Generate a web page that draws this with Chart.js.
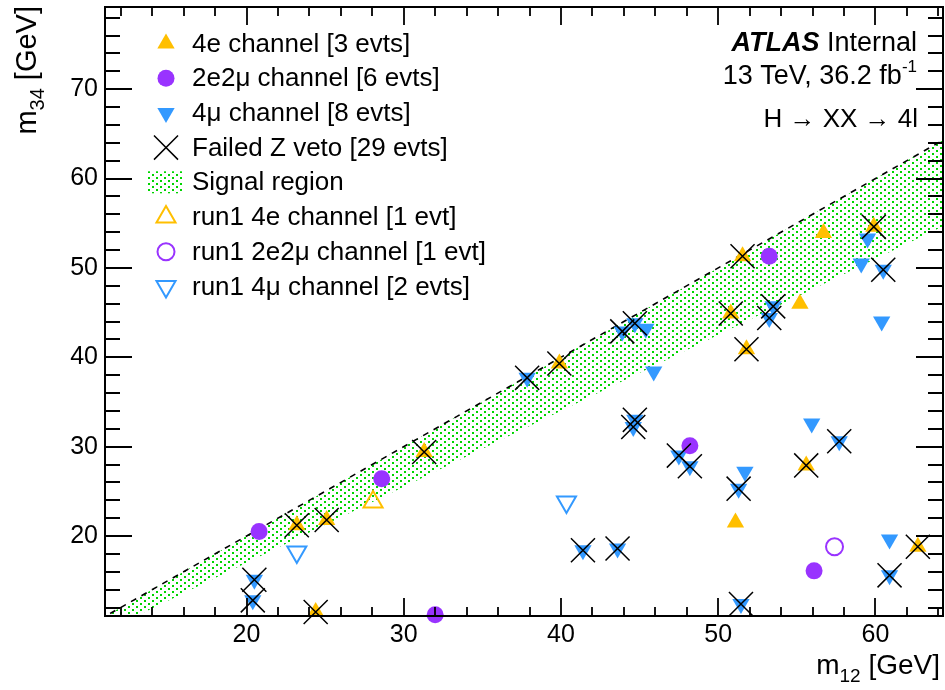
<!DOCTYPE html>
<html>
<head>
<meta charset="utf-8">
<script src="https://cdn.jsdelivr.net/npm/chart.js@4.4.1/dist/chart.umd.min.js"></script>
<style>
  body { margin: 0; background: #fff; }
  #wrap { width: 945px; height: 690px; }
</style>
</head>
<body>
<div id="wrap"><canvas id="plot" width="945" height="690"></canvas></div>
<script>
// axis ticks
const xMajorTicks = [20, 30, 40, 50, 60];
const yMajorTicks = [20, 30, 40, 50, 60, 70];

// 4e channel, passed
const e4M12 = [51.1, 55.2, 56.7];
const e4M34 = [21.5, 46.0, 53.9];
// 2e2mu channel, passed
const e2m2M12 = [20.8, 28.6, 32.0, 48.2, 53.25, 56.1];
const e2m2M34 = [20.5, 26.4, 11.2, 30.1, 51.3, 16.1];
// 4mu channel, passed
const m4M12 = [45.4, 45.9, 51.7, 55.95, 59.1, 59.5, 60.4, 60.9];
const m4M34 = [43.2, 38.4, 27.2, 32.6, 50.5, 53.3, 44.0, 19.6];

// failed Z veto (4e and 4mu underneath the crosses)
const e4FailM12 = [23.2, 24.4, 25.1, 31.3, 39.9, 50.8, 51.55, 51.8, 55.6, 59.9, 62.7];
const e4FailM34 = [21.2, 11.5, 21.8, 29.4, 39.3, 44.9, 51.3, 40.9, 27.9, 54.6, 18.8];
const m4FailM12 = [20.4, 20.5, 37.85, 41.4, 43.6, 43.9, 44.6, 44.7, 44.7, 47.5, 48.2, 51.3, 51.45, 53.25, 53.5, 57.7, 60.5, 60.9];
const m4FailM34 = [12.8, 15.1, 37.7, 18.4, 18.6, 42.9, 32.2, 33.0, 43.8, 29.0, 27.8, 25.3, 12.4, 44.4, 45.7, 30.6, 49.8, 15.6];

// run1 events
const run1e4M12 = [28.05];
const run1e4M34 = [23.8];
const run1e2m2M12 = [57.4];
const run1e2m2M34 = [18.8];
const run1m4M12 = [23.2, 40.35];
const run1m4M34 = [18.2, 23.8];

// signal region edges (m34 = m12 and m34 = 0.85 m12)
const bandM12 = [10, 70];
const bandUpper = [10, 70];
const bandLower = [8.5, 59.5];

const FONT = "'Liberation Sans', Arial, Helvetica, sans-serif";
const ORANGE = "#ffbf00";
const PURPLE = "#9933ff";
const BLUE = "#3399ff";

function pts(xs, ys) {
    return xs.map((x, i) => ({ x: x, y: ys[i] }));
}

// green dotted fill like ROOT style 3003
function dotPattern() {
    const c = document.createElement("canvas");
    c.width = 8;
    c.height = 6;
    const g = c.getContext("2d");
    g.fillStyle = "#00d400";
    g.fillRect(0, 0, 2, 2);
    g.fillRect(4, 3, 2, 2);
    return g.createPattern(c, "repeat");
}
const pattern = dotPattern();

const legendRows = [
    { text: "4e channel [3 evts]", style: "triangle", rot: 0, r: 10, fill: ORANGE, stroke: ORANGE, bw: 0 },
    { text: "2e2\u03bc channel [6 evts]", style: "circle", rot: 0, r: 8.5, fill: PURPLE, stroke: PURPLE, bw: 0 },
    { text: "4\u03bc channel [8 evts]", style: "triangle", rot: 180, r: 10, fill: BLUE, stroke: BLUE, bw: 0 },
    { text: "Failed Z veto [29 evts]", style: "crossRot", rot: 0, r: 17, fill: "rgba(0,0,0,0)", stroke: "#000", bw: 1.5 },
    { text: "Signal region", style: "band" },
    { text: "run1 4e channel [1 evt]", style: "triangle", rot: 0, r: 11, fill: "rgba(0,0,0,0)", stroke: ORANGE, bw: 2 },
    { text: "run1 2e2\u03bc channel [1 evt]", style: "circle", rot: 0, r: 8.5, fill: "rgba(0,0,0,0)", stroke: PURPLE, bw: 2 },
    { text: "run1 4\u03bc channel [2 evts]", style: "triangle", rot: 180, r: 11, fill: "rgba(0,0,0,0)", stroke: BLUE, bw: 2 }
];

// frame, inward ticks, legend and labels, drawn the ROOT way
const rootDecor = {
    id: "rootDecor",
    afterDraw(chart) {
        const ctx = chart.ctx;
        const a = chart.chartArea;
        const xs = chart.scales.x;
        const ys = chart.scales.y;
        ctx.save();

        // ticks
        ctx.strokeStyle = "#000";
        ctx.lineWidth = 1.8;
        ctx.beginPath();
        for (let v = 12; v <= xs.max; v += 2) {
            const px = Math.round(xs.getPixelForValue(v));
            const len = v % 10 === 0 ? 18 : 9;
            ctx.moveTo(px, a.bottom);
            ctx.lineTo(px, a.bottom - len);
            ctx.moveTo(px, a.top);
            ctx.lineTo(px, a.top + len);
        }
        for (let v = 12; v <= ys.max; v += 2) {
            const py = Math.round(ys.getPixelForValue(v));
            const len = v % 10 === 0 ? 27 : 15;
            ctx.moveTo(a.left, py);
            ctx.lineTo(a.left + len, py);
            ctx.moveTo(a.right, py);
            ctx.lineTo(a.right - len, py);
        }
        ctx.stroke();
        ctx.lineWidth = 2;
        ctx.strokeRect(a.left, a.top, a.right - a.left, a.bottom - a.top);

        // legend
        const lx = 166;
        legendRows.forEach((row, i) => {
            const ly = 43.5 + i * 34.7;
            if (row.style === "band") {
                ctx.fillStyle = pattern;
                ctx.fillRect(lx - 18, ly - 11, 36, 22);
            } else {
                ctx.fillStyle = row.fill;
                ctx.strokeStyle = row.stroke;
                ctx.lineWidth = row.bw;
                Chart.helpers.drawPoint(ctx, {
                    pointStyle: row.style, radius: row.r, rotation: row.rot, borderWidth: row.bw
                }, lx, ly);
            }
            ctx.fillStyle = "#000";
            ctx.font = "26px " + FONT;
            ctx.textAlign = "left";
            ctx.textBaseline = "middle";
            ctx.fillText(row.text, 192, ly + 1);
        });

        // ATLAS label block
        ctx.textBaseline = "alphabetic";
        ctx.textAlign = "right";
        ctx.font = "27px " + FONT;
        const right = 917;
        ctx.fillText("Internal", right, 51);
        const wInt = ctx.measureText(" Internal").width;
        ctx.font = "italic bold 27px " + FONT;
        ctx.fillText("ATLAS", right - wInt, 51);

        ctx.font = "17px " + FONT;
        ctx.fillText("-1", right, 72);
        const wSup = ctx.measureText("-1").width;
        ctx.font = "27px " + FONT;
        ctx.fillText("13 TeV, 36.2 fb", right - wSup, 84);
        ctx.font = "26px " + FONT;
        ctx.fillText("H \u2192 XX \u2192 4l", right + 1, 127);

        // x axis title
        ctx.font = "28px " + FONT;
        ctx.fillText(" [GeV]", 940, 674);
        let w = ctx.measureText(" [GeV]").width;
        ctx.font = "19px " + FONT;
        ctx.fillText("12", 940 - w, 682);
        w += ctx.measureText("12").width;
        ctx.font = "28px " + FONT;
        ctx.fillText("m", 940 - w, 674);

        // y axis title
        ctx.translate(36, 6);
        ctx.rotate(-Math.PI / 2);
        ctx.textAlign = "right";
        ctx.font = "29px " + FONT;
        ctx.fillText(" [GeV]", 0, 0);
        w = ctx.measureText(" [GeV]").width;
        ctx.font = "20px " + FONT;
        ctx.fillText("34", -w, 8);
        w += ctx.measureText("34").width;
        ctx.font = "29px " + FONT;
        ctx.fillText("m", -w, 0);

        ctx.restore();
    }
};

function markerSet(xs, ys, style, rot, r, fill, stroke, bw, order) {
    return {
        data: pts(xs, ys),
        pointStyle: style,
        rotation: rot,
        pointRadius: r,
        pointHoverRadius: r,
        backgroundColor: fill,
        borderColor: stroke,
        borderWidth: bw,
        order: order,
        clip: false
    };
}

const datasets = [
    markerSet(e4FailM12.concat(m4FailM12), e4FailM34.concat(m4FailM34), "crossRot", 0, 17, "rgba(0,0,0,0)", "#000", 1.5, 0),
    markerSet(run1e4M12, run1e4M34, "triangle", 0, 11, "rgba(0,0,0,0)", ORANGE, 2, 1),
    markerSet(run1e2m2M12, run1e2m2M34, "circle", 0, 8.5, "rgba(0,0,0,0)", PURPLE, 2, 1),
    markerSet(run1m4M12, run1m4M34, "triangle", 180, 11, "rgba(0,0,0,0)", BLUE, 2, 1),
    markerSet(e4M12, e4M34, "triangle", 0, 10, ORANGE, ORANGE, 0, 2),
    markerSet(e2m2M12, e2m2M34, "circle", 0, 8.5, PURPLE, PURPLE, 0, 2),
    markerSet(m4M12, m4M34, "triangle", 180, 10, BLUE, BLUE, 0, 2),
    markerSet(e4FailM12, e4FailM34, "triangle", 0, 10, ORANGE, ORANGE, 0, 3),
    markerSet(m4FailM12, m4FailM34, "triangle", 180, 10, BLUE, BLUE, 0, 3),
    {
        // upper edge of signal region, filled down to the lower edge
        type: "line",
        data: pts(bandM12, bandUpper),
        borderColor: "#000",
        borderWidth: 1.6,
        borderDash: [6, 6],
        backgroundColor: pattern,
        pointRadius: 0,
        showLine: true,
        fill: "+1",
        order: 8
    },
    {
        type: "line",
        data: pts(bandM12, bandLower),
        borderWidth: 0,
        borderColor: "rgba(0,0,0,0)",
        pointRadius: 0,
        showLine: true,
        fill: false,
        order: 9
    }
];

function noPad(s) {
    s.paddingLeft = 0;
    s.paddingRight = 0;
    s.paddingTop = 0;
    s.paddingBottom = 0;
}

new Chart(document.getElementById("plot"), {
    type: "scatter",
    data: { datasets: datasets },
    options: {
        responsive: false,
        animation: false,
        devicePixelRatio: 1,
        layout: { autoPadding: false, padding: { left: 0, top: 7, right: 2, bottom: 0 } },
        plugins: { legend: { display: false }, tooltip: { enabled: false } },
        scales: {
            x: {
                type: "linear",
                min: 11,
                max: 64.3,
                afterBuildTicks: s => { s.ticks = xMajorTicks.map(v => ({ value: v })); },
                afterFit: s => { s.height = 74; noPad(s); },
                ticks: { font: { family: FONT, size: 25 }, color: "#000", padding: 4, maxRotation: 0, autoSkip: false },
                grid: { display: false, drawTicks: false },
                border: { display: false }
            },
            y: {
                type: "linear",
                min: 11.05,
                max: 79.2,
                afterBuildTicks: s => { s.ticks = yMajorTicks.map(v => ({ value: v })); },
                afterFit: s => { s.width = 105; noPad(s); },
                ticks: { font: { family: FONT, size: 25 }, color: "#000", padding: 7, autoSkip: false },
                grid: { display: false, drawTicks: false },
                border: { display: false }
            }
        }
    },
    plugins: [rootDecor]
});
</script>
</body>
</html>
